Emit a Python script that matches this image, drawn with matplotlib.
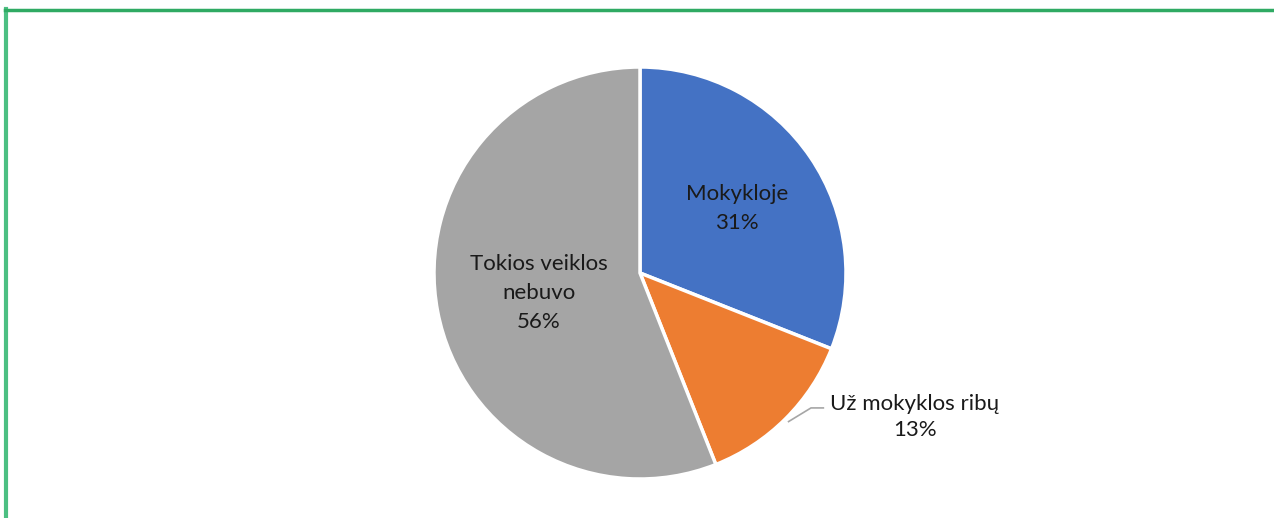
import numpy as np
import matplotlib.pyplot as plt

plt.rcParams['font.family'] = ['Lato', 'DejaVu Sans']

categories = ['Mokykloje', 'Už mokyklos ribų', 'Tokios veiklos\nnebuvo']
shares = [31, 13, 56]
colors = ['#4472C4', '#ED7D31', '#A5A5A5']

W, H = 1274, 518
fig = plt.figure(figsize=(W / 100, H / 100), dpi=100)

# green frame (top and left edges only visible)
fig.add_artist(plt.Line2D([6 / W, 6 / W], [0, 1 - 9 / H], transform=fig.transFigure,
                          color='#4CBF82', lw=3))
fig.add_artist(plt.Line2D([5 / W, 1], [1 - 9.5 / H, 1 - 9.5 / H], transform=fig.transFigure,
                          color='#2FAA63', lw=2.5))

cx, cy, r = 640, 518 - 273, 206
ax = fig.add_axes([(cx - r) / W, (cy - r) / H, 2 * r / W, 2 * r / H])
wedges, _ = ax.pie(shares, colors=colors, startangle=90, counterclock=False,
                   radius=1, wedgeprops=dict(edgecolor='white', linewidth=2.5))
ax.set_xlim(-1, 1)
ax.set_ylim(-1, 1)
ax.axis('off')

def mid(w):
    return np.deg2rad((w.theta1 + w.theta2) / 2)

fs = 16
# inside labels
for i, rad, dx, dy in [(0, 0.52, 0.04, 0.02), (2, 0.57, 0.07, 0.01)]:
    a = mid(wedges[i])
    ax.text(rad * np.cos(a) + dx, rad * np.sin(a) + dy, f'{categories[i]}\n{shares[i]}%',
            ha='center', va='center', fontsize=fs, linespacing=1.55, color='#1a1a1a')

# outside label with leader line
a = mid(wedges[1])
p0 = (1.02 * np.cos(a), 1.02 * np.sin(a))
ax.plot([p0[0], 0.83, 0.89], [p0[1], -0.655, -0.655], color='#A6A6A6', lw=1.2,
        clip_on=False)
ax.text(1.334, -0.70, f'{categories[1]}\n{shares[1]}%', ha='center', va='center',
        fontsize=fs, linespacing=1.4, color='#1a1a1a')

fig.savefig('out.png', dpi=100)
